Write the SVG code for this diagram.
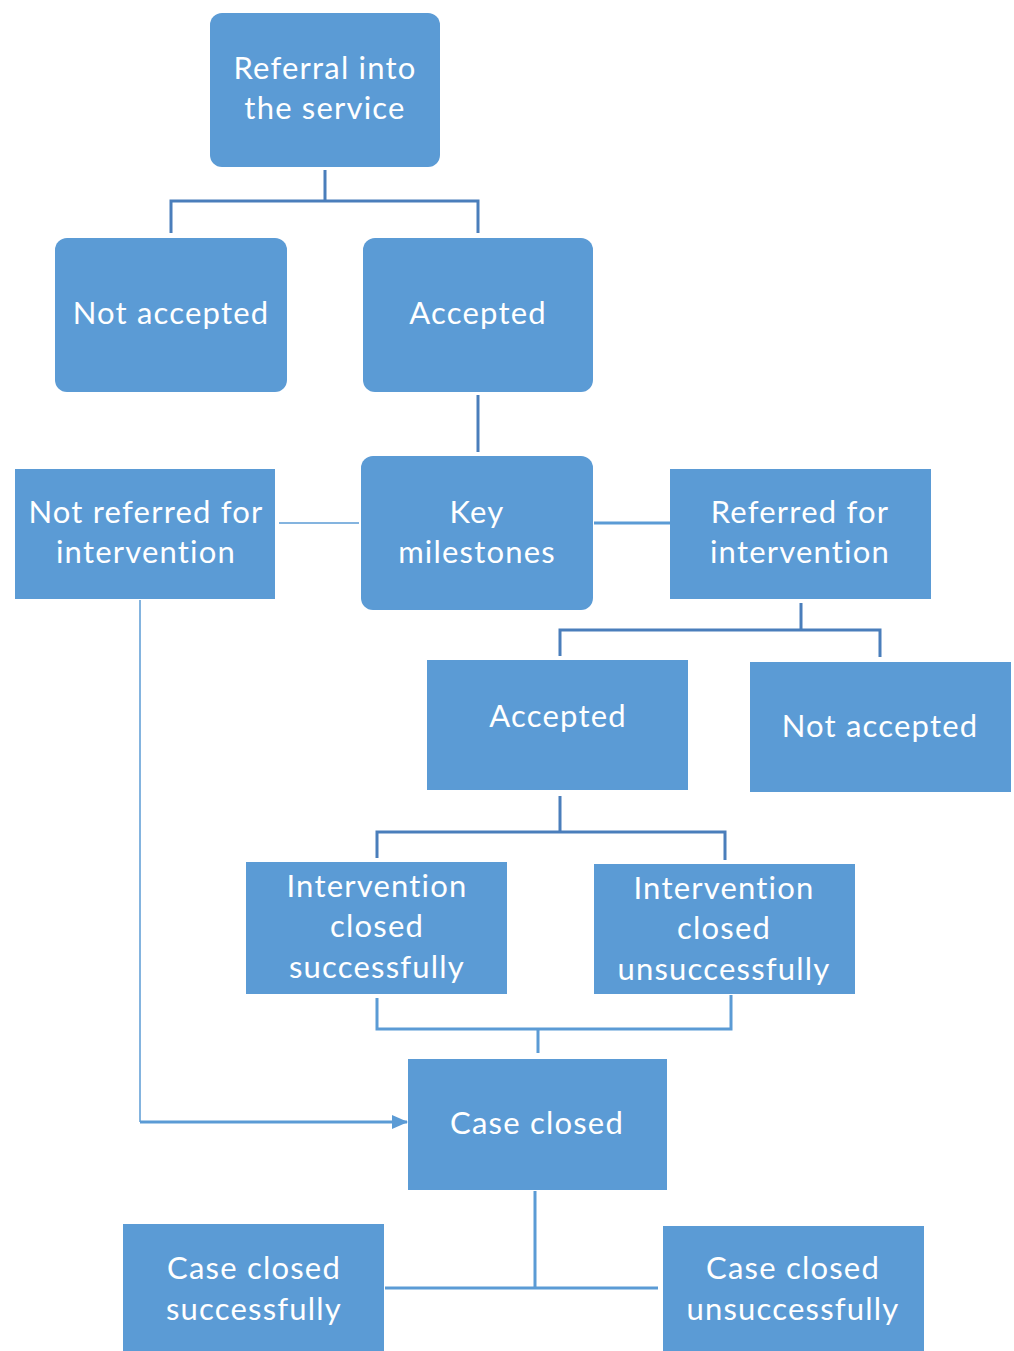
<svg xmlns="http://www.w3.org/2000/svg" width="1014" height="1351" viewBox="0 0 1014 1351">
  <style>
    .box { fill: #5B9BD5; }
    .lbl { fill: #ffffff; font-family: Lato, "Open Sans", "Liberation Sans", sans-serif; font-size: 31px; letter-spacing: 1.2px; text-anchor: middle; }
    .elbow { fill: none; stroke: #4A7EBB; stroke-width: 3; }
    .line { fill: none; stroke: #5B9BD5; stroke-width: 3; }
    .thin { fill: none; stroke: #5B9BD5; stroke-width: 1.5; }
  </style>
  <defs>
    <marker id="arrowBig" viewBox="0 0 16 16" markerWidth="16" markerHeight="16" refX="15" refY="8" orient="auto" markerUnits="userSpaceOnUse">
      <path d="M0,1 L16,8 L0,15 Z" fill="#5B9BD5"/>
    </marker>
  </defs>

  <g id="connectors">
    <!-- referral fork -->
    <path class="elbow" d="M325,170 V201 M171,233 V201 H478 V233"/>
    <!-- accepted to key milestones -->
    <path class="elbow" d="M478,395 V452"/>
    <!-- key milestones sideways -->
    <path class="thin" d="M279,523 H359"/>
    <path class="line" d="M594,523 H670"/>
    <!-- referred fork -->
    <path class="elbow" d="M801,603 V630 M560,656 V630 H880 V657"/>
    <!-- accepted fork -->
    <path class="elbow" d="M560,796 V832 M377,858 V832 H725 V860"/>
    <!-- intervention join -->
    <path class="line" d="M377,998 V1029 H731 V995 M538,1029 V1053"/>
    <!-- not referred straight to case closed -->
    <path class="thin" d="M140,600 V1122"/>
    <path class="line" d="M140,1122 H407" marker-end="url(#arrowBig)"/>
    <!-- case closed outcomes -->
    <path class="line" d="M535,1191 V1288 M385,1288 H658"/>
  </g>

  <g id="referral">
    <rect class="box" x="210" y="13" width="230" height="154" rx="12"/>
    <text class="lbl" x="325" y="79">Referral into</text>
    <text class="lbl" x="325" y="119">the service</text>
  </g>
  <g id="not-accepted-1">
    <rect class="box" x="55" y="238" width="232" height="154" rx="12"/>
    <text class="lbl" x="171" y="324">Not accepted</text>
  </g>
  <g id="accepted-1">
    <rect class="box" x="363" y="238" width="230" height="154" rx="12"/>
    <text class="lbl" x="478" y="324">Accepted</text>
  </g>
  <g id="not-referred">
    <rect class="box" x="15" y="469" width="260" height="130"/>
    <text class="lbl" x="146" y="523">Not referred for</text>
    <text class="lbl" x="146" y="563">intervention</text>
  </g>
  <g id="key-milestones">
    <rect class="box" x="361" y="456" width="232" height="154" rx="12"/>
    <text class="lbl" x="477" y="523">Key</text>
    <text class="lbl" x="477" y="563">milestones</text>
  </g>
  <g id="referred">
    <rect class="box" x="670" y="469" width="261" height="130"/>
    <text class="lbl" x="800" y="523">Referred for</text>
    <text class="lbl" x="800" y="563">intervention</text>
  </g>
  <g id="accepted-2">
    <rect class="box" x="427" y="660" width="261" height="130"/>
    <text class="lbl" x="558" y="727">Accepted</text>
  </g>
  <g id="not-accepted-2">
    <rect class="box" x="750" y="662" width="261" height="130"/>
    <text class="lbl" x="880" y="737">Not accepted</text>
  </g>
  <g id="intervention-success">
    <rect class="box" x="246" y="862" width="261" height="132"/>
    <text class="lbl" x="377" y="897">Intervention</text>
    <text class="lbl" x="377" y="937">closed</text>
    <text class="lbl" x="377" y="978">successfully</text>
  </g>
  <g id="intervention-fail">
    <rect class="box" x="594" y="864" width="261" height="130"/>
    <text class="lbl" x="724" y="899">Intervention</text>
    <text class="lbl" x="724" y="939">closed</text>
    <text class="lbl" x="724" y="980">unsuccessfully</text>
  </g>
  <g id="case-closed">
    <rect class="box" x="408" y="1059" width="259" height="131"/>
    <text class="lbl" x="537" y="1134">Case closed</text>
  </g>
  <g id="case-closed-success">
    <rect class="box" x="123" y="1224" width="261" height="130"/>
    <text class="lbl" x="254" y="1279">Case closed</text>
    <text class="lbl" x="254" y="1320">successfully</text>
  </g>
  <g id="case-closed-fail">
    <rect class="box" x="663" y="1226" width="261" height="130"/>
    <text class="lbl" x="793" y="1279">Case closed</text>
    <text class="lbl" x="793" y="1320">unsuccessfully</text>
  </g>
</svg>
